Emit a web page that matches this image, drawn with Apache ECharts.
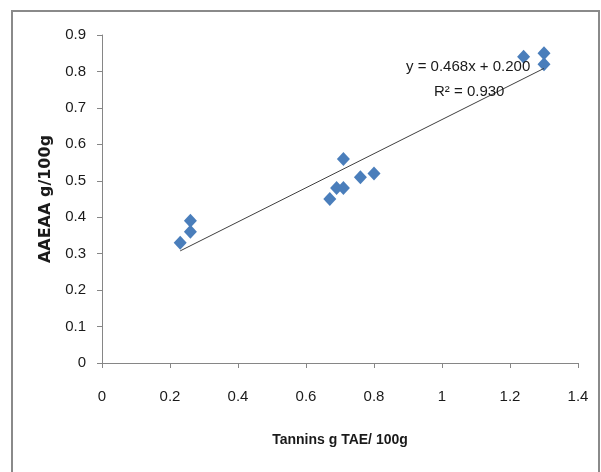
<!DOCTYPE html>
<html>
<head>
<meta charset="utf-8">
<script src="https://cdn.jsdelivr.net/npm/echarts@6/dist/echarts.min.js"></script>
<style>
  html, body { margin: 0; padding: 0; background: #fff; }
  #chart { width: 601px; height: 472px; }
</style>
</head>
<body>
<div id="chart"></div>
<script>
var chart = echarts.init(document.getElementById("chart"));

// measured points: tannins (x) vs AAEAA (y)
var tanninX = [0.23, 0.26, 0.26, 0.67, 0.69, 0.71, 0.71, 0.76, 0.80, 1.24, 1.30, 1.30];
var aaeaaY  = [0.33, 0.36, 0.39, 0.45, 0.48, 0.48, 0.56, 0.51, 0.52, 0.84, 0.85, 0.82];

// trend line from the printed equation
var slope = 0.468;
var intercept = 0.200;
var trendX = [0.23, 1.30];
var eqText = "y = 0.468x + 0.200";
var r2Text = "R² = 0.930";

var xTitle = "Tannins g TAE/ 100g";
var yTitle = "AAEAA g/100g";

var sans = "'Liberation Sans', Arial, sans-serif";

var points = tanninX.map(function (x, i) { return [x, aaeaaY[i]]; });
var trend = trendX.map(function (x) { return [x, slope * x + intercept]; });

var option = {
    backgroundColor: "#fff",
    animation: false,
    grid: { left: 102, right: 23, top: 35, bottom: 109 },
    xAxis: {
        type: "value",
        min: 0,
        max: 1.4,
        interval: 0.2,
        name: xTitle,
        nameLocation: "middle",
        nameGap: 70,
        nameTextStyle: { fontFamily: sans, fontSize: 14, fontWeight: "bold", color: "#1a1a1a" },
        axisLine: { show: true, lineStyle: { color: "#868686", width: 1 } },
        axisTick: { show: true, length: 5, lineStyle: { color: "#868686" } },
        axisLabel: { fontFamily: sans, fontSize: 15, color: "#1a1a1a", margin: 26 },
        splitLine: { show: false }
    },
    yAxis: {
        type: "value",
        min: 0,
        max: 0.9,
        interval: 0.1,
        name: yTitle,
        nameLocation: "middle",
        nameGap: 44,
        nameTextStyle: { fontFamily: "'DejaVu Sans', Verdana, sans-serif", fontSize: 16, fontWeight: "bold", color: "#1a1a1a" },
        axisLine: { show: true, lineStyle: { color: "#868686", width: 1 } },
        axisTick: { show: true, length: 5, lineStyle: { color: "#868686" } },
        axisLabel: { fontFamily: sans, fontSize: 15, color: "#1a1a1a", margin: 16 },
        splitLine: { show: false }
    },
    graphic: [
        {
            type: "rect",
            shape: { x: 12, y: 11, width: 587, height: 480 },
            style: { fill: "none", stroke: "#8a8a8a", lineWidth: 2 },
            silent: true
        },
        {
            type: "text",
            left: 406, top: 59,
            style: { text: eqText, fontFamily: sans, fontSize: 15, fill: "#1a1a1a" },
            z: 10
        },
        {
            type: "text",
            left: 434, top: 84,
            style: { text: r2Text, fontFamily: sans, fontSize: 15, fill: "#1a1a1a" },
            z: 10
        }
    ],
    series: [
        {
            type: "scatter",
            data: points,
            symbol: "diamond",
            symbolSize: [13, 14],
            itemStyle: { color: "#4A7EBB", opacity: 1 },
            z: 3
        },
        {
            type: "line",
            data: trend,
            symbol: "none",
            lineStyle: { color: "#404040", width: 1 },
            z: 4
        }
    ]
};

chart.setOption(option);
</script>
</body>
</html>
